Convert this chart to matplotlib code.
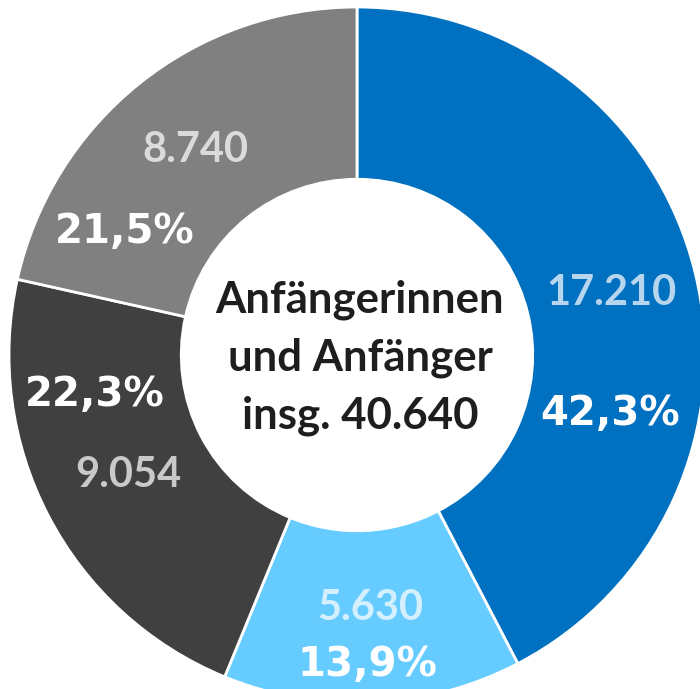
import matplotlib.pyplot as plt

# Anfängerinnen und Anfänger, Anteile
werte = [17210, 5630, 9054, 8740]
wert_labels = ["17.210", "5.630", "9.054", "8.740"]
prozent_labels = ["42,3%", "13,9%", "22,3%", "21,5%"]
farben = ["#0070C0", "#66CCFF", "#404040", "#808080"]
mitte_zeilen = ["Anfängerinnen", "und Anfänger", "insg. 40.640"]

W, H = 700, 689
cx, cy, R = 357, 355, 348


def px(x, y):
    # Pixelposition -> Datenkoordinaten
    return (x - cx) / R, (cy - y) / R


fig = plt.figure(figsize=(W / 100, H / 100), dpi=100)
ax = fig.add_axes([0, 0, 1, 1])

ax.pie(werte, colors=farben, startangle=90, counterclock=False, radius=1,
       wedgeprops=dict(width=0.495, edgecolor="white", linewidth=2))

ax.set_xlim(px(0, 0)[0], px(W, 0)[0])
ax.set_ylim(px(0, H)[1], px(0, 0)[1])
ax.set_aspect("auto")
ax.axis("off")

# Positionen der Beschriftungen (Pixel)
pos_wert = [(611, 293), (370, 608), (128, 475), (195, 150)]
pos_proz = [(610, 414), (367, 665), (95, 395), (125, 232)]

for (x, y), t in zip(pos_wert, wert_labels):
    ax.text(*px(x, y), t, ha="center", va="center", fontsize=30,
            family="Lato", fontweight="bold", color="white", alpha=0.72)

for (x, y), t in zip(pos_proz, prozent_labels):
    ax.text(*px(x, y), t, ha="center", va="center", fontsize=29,
            family="DejaVu Sans", fontweight="bold", color="white")

for i, zeile in enumerate(mitte_zeilen):
    ax.text(*px(360, 300 + 58 * i), zeile, ha="center", va="center",
            fontsize=31.5, family="Lato", fontweight="bold", color="#1e1e1e")

fig.savefig("out.png", dpi=100)
